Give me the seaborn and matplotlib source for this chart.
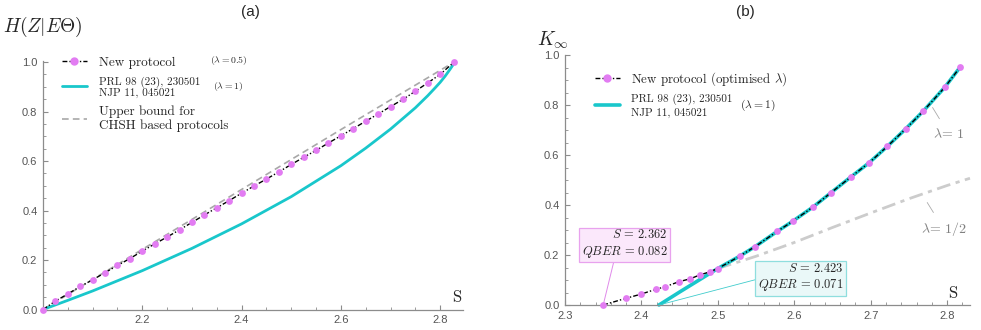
import matplotlib
matplotlib.use('Agg')
import matplotlib.pyplot as plt
import seaborn as sns
from matplotlib.lines import Line2D
from matplotlib.ticker import MultipleLocator

# ---- panel (a): values ----
s_new_a = [2.000, 2.025, 2.050, 2.075, 2.100, 2.125, 2.150, 2.175, 2.200, 2.225,
           2.250, 2.275, 2.300, 2.325, 2.350, 2.375, 2.400, 2.425, 2.450, 2.475,
           2.500, 2.525, 2.550, 2.575, 2.600, 2.625, 2.650, 2.675, 2.700, 2.725,
           2.750, 2.775, 2.800, 2.828]
h_new_a = [0.000, 0.034, 0.063, 0.093, 0.120, 0.149, 0.178, 0.206, 0.236, 0.265,
           0.293, 0.322, 0.352, 0.382, 0.411, 0.440, 0.470, 0.499, 0.527, 0.556,
           0.586, 0.615, 0.643, 0.673, 0.702, 0.731, 0.761, 0.790, 0.820, 0.849,
           0.882, 0.916, 0.950, 1.000]

s_prl_a = [2.000, 2.050, 2.100, 2.200, 2.300, 2.400, 2.500, 2.600, 2.650, 2.700,
           2.750, 2.775, 2.790, 2.800, 2.810, 2.820, 2.825, 2.828]
h_prl_a = [0.000, 0.037, 0.075, 0.157, 0.247, 0.346, 0.456, 0.581, 0.652, 0.729,
           0.815, 0.864, 0.896, 0.918, 0.943, 0.971, 0.986, 1.000]

s_bound_a = [2.000, 2.200, 2.400, 2.600, 2.828]
h_bound_a = [0.000, 0.243, 0.485, 0.727, 1.000]

# ---- panel (b) ----
s_new_b = [2.350, 2.380, 2.399, 2.419, 2.431, 2.449, 2.464, 2.477, 2.490, 2.500,
           2.529, 2.549, 2.578, 2.598, 2.625, 2.648, 2.674, 2.698, 2.722, 2.746,
           2.769, 2.797, 2.817]
k_new_b = [0.000, 0.027, 0.043, 0.063, 0.073, 0.093, 0.105, 0.121, 0.133, 0.146,
           0.196, 0.234, 0.295, 0.335, 0.393, 0.449, 0.512, 0.569, 0.635, 0.705,
           0.776, 0.871, 0.951]

s_prl_b = [2.423, 2.450, 2.475, 2.500, 2.529, 2.549, 2.578, 2.598, 2.625, 2.648,
           2.674, 2.698, 2.722, 2.746, 2.769, 2.797, 2.817]
k_prl_b = [0.000, 0.052, 0.099, 0.146, 0.196, 0.234, 0.295, 0.335, 0.393, 0.449,
           0.512, 0.569, 0.635, 0.705, 0.776, 0.871, 0.951]

s_half_b = [2.500, 2.550, 2.600, 2.650, 2.700, 2.750, 2.800, 2.830]
k_half_b = [0.146, 0.195, 0.250, 0.310, 0.368, 0.425, 0.478, 0.507]

MAG = '#E27CF2'
CYAN = '#19C7CB'
DASHDOT = (0, (3.5, 1.5, 1, 1.5))

sns.set_style('ticks')
plt.rcParams['font.family'] = ['Liberation Sans', 'DejaVu Sans']
plt.rcParams['mathtext.fontset'] = 'cm'

fig = plt.figure(figsize=(9.81, 3.30), dpi=100)
ax1 = fig.add_axes([43/981, 20.5/330, 420/981, 248.7/330])
ax2 = fig.add_axes([565/981, 25/330, 405/981, 250/330])


def style(ax):
    sns.despine(ax=ax)
    for sp in ['left', 'bottom']:
        ax.spines[sp].set_color('#8c8c8c')
        ax.spines[sp].set_linewidth(0.9)
    ax.tick_params(which='both', direction='in', colors='#8c8c8c',
                   labelcolor='#555555', labelsize=8)
    ax.tick_params(which='major', length=3.5, width=0.8, pad=4)
    ax.tick_params(which='minor', length=2, width=0.6)
    ax.yaxis.set_major_locator(MultipleLocator(0.2))
    ax.yaxis.set_minor_locator(MultipleLocator(0.05))
    ax.yaxis.set_major_formatter('{x:.1f}')
    ax.set_xlabel('')
    ax.set_ylabel('')


# ---------------- (a) ----------------
sns.lineplot(x=s_bound_a, y=h_bound_a, ax=ax1, color='#a8a8a8', lw=1.2,
             linestyle=(0, (4, 2.5)), estimator=None)
sns.lineplot(x=s_prl_a, y=h_prl_a, ax=ax1, color=CYAN, lw=2, estimator=None)
sns.lineplot(x=s_new_a, y=h_new_a, ax=ax1, color='black', lw=1, linestyle=DASHDOT,
             estimator=None)
sns.scatterplot(x=s_new_a, y=h_new_a, ax=ax1, color=MAG, s=24, linewidth=0,
                zorder=5, clip_on=False)
for ln in ax1.lines:
    ln.set_clip_on(False)

ax1.set_xlim(2.0, 2.846)
ax1.set_ylim(0, 1.005)
style(ax1)
ax1.set_xticks([2.2, 2.4, 2.6, 2.8])
ax1.xaxis.set_minor_locator(MultipleLocator(0.05))
ax1.text(2.835, 0.018, r'$\mathrm{S}$', fontsize=12, ha='center', va='bottom')

hand_a = [Line2D([], [], color='black', lw=1, linestyle=DASHDOT, marker='o', ms=5,
                 mfc=MAG, mec=MAG),
          Line2D([], [], color=CYAN, lw=2),
          Line2D([], [], color='#a8a8a8', lw=1.2, linestyle=(0, (4, 2.5)))]
lab_a = ['New protocol', 'PRL 98 (23), 230501\nNJP 11, 045021',
         'Upper bound for\nCHSH based protocols']
leg_a = ax1.legend(hand_a, lab_a, loc='upper left', bbox_to_anchor=(0.0445, 1.018),
                   frameon=False, prop={'family': 'cmr10', 'size': 9.5},
                   handlelength=1.9, handletextpad=0.9, labelspacing=0.6,
                   borderpad=0, borderaxespad=0, numpoints=1)
leg_a.get_texts()[1].set_fontsize(8)
leg_a.get_texts()[1].set_linespacing(1.0)
leg_a.get_texts()[2].set_linespacing(1.12)
ax1.text(0.398, 1.003, r'$(\lambda = 0.5)$', transform=ax1.transAxes, fontsize=7,
         va='center', ha='left')
ax1.text(0.405, 0.895, r'$(\lambda = 1)$', transform=ax1.transAxes, fontsize=7,
         va='center', ha='left')

# ---------------- (b) ----------------
sns.lineplot(x=s_half_b, y=k_half_b, ax=ax2, color='#cccccc', lw=2,
             linestyle=(0, (5, 2, 1.5, 2)), estimator=None)
sns.lineplot(x=s_prl_b, y=k_prl_b, ax=ax2, color=CYAN, lw=2.6, estimator=None)
sns.lineplot(x=s_new_b, y=k_new_b, ax=ax2, color='black', lw=1, linestyle=DASHDOT,
             estimator=None)
sns.scatterplot(x=s_new_b, y=k_new_b, ax=ax2, color=MAG, s=24, linewidth=0,
                zorder=5, clip_on=False)
for ln in ax2.lines:
    ln.set_clip_on(False)

ax2.set_xlim(2.3, 2.83)
ax2.set_ylim(0, 1.0)
style(ax2)
ax2.xaxis.set_major_locator(MultipleLocator(0.1))
ax2.xaxis.set_minor_locator(MultipleLocator(0.02))
ax2.xaxis.set_major_formatter('{x:.1f}')
ax2.text(2.808, 0.017, r'$\mathrm{S}$', fontsize=12, ha='center', va='bottom')

hand_b = [Line2D([], [], color='black', lw=1, linestyle=DASHDOT, marker='o', ms=5,
                 mfc=MAG, mec=MAG),
          Line2D([], [], color=CYAN, lw=2.6)]
lab_b = [r'New protocol (optimised $\lambda$)', 'PRL 98 (23), 230501\nNJP 11, 045021']
leg_b = ax2.legend(hand_b, lab_b, loc='upper left', bbox_to_anchor=(0.074, 0.938),
                   frameon=False, prop={'family': 'cmr10', 'size': 9.3},
                   handlelength=1.9, handletextpad=0.9, labelspacing=0.4,
                   borderpad=0, borderaxespad=0, numpoints=1)
leg_b.get_texts()[1].set_fontsize(8)
leg_b.get_texts()[1].set_linespacing(1.4)
ax2.text(0.432, 0.80, r'$(\lambda = 1)$', transform=ax2.transAxes, fontsize=8.4,
         va='center', ha='left')

# annotation boxes
ax2.annotate(r'$S\,=\,2.362$' + '\n' + r'$QBER\,=\,0.082$', xy=(2.350, 0.0),
             xytext=(2.434, 0.244), ha='right', va='center', fontsize=9,
             multialignment='right',
             bbox=dict(boxstyle='square,pad=0.2', fc='#FBE8FB', ec='#E8A2EE', lw=0.9),
             arrowprops=dict(arrowstyle='-', color='#E08AEA', lw=0.7,
                             relpos=(0.38, 0.0), shrinkA=0, shrinkB=0))
ax2.annotate(r'$S\,=\,2.423$' + '\n' + r'$QBER\,=\,0.071$', xy=(2.423, 0.0),
             xytext=(2.664, 0.11), ha='right', va='center', fontsize=9,
             multialignment='right',
             bbox=dict(boxstyle='square,pad=0.2', fc='#EAF8F8', ec='#8FDEDE', lw=0.9),
             arrowprops=dict(arrowstyle='-', color='#40CCCC', lw=0.6,
                             relpos=(0.0, 0.45), shrinkA=0, shrinkB=0))

# curve labels
ax2.annotate(r'$\lambda\!=\,1$', xy=(2.781, 0.79), xytext=(2.802, 0.685),
             ha='center', va='center', fontsize=10, color='#808080',
             arrowprops=dict(arrowstyle='-', color='#aaaaaa', lw=0.6,
                             shrinkA=4, shrinkB=0))
ax2.annotate(r'$\lambda\!=\,1/2$', xy=(2.774, 0.41), xytext=(2.796, 0.302),
             ha='center', va='center', fontsize=10, color='#808080',
             arrowprops=dict(arrowstyle='-', color='#aaaaaa', lw=0.6,
                             shrinkA=4, shrinkB=0))

# titles and axis names
fig.text(250/981, 1 - 12/330, '(a)', ha='center', va='center', fontsize=11)
fig.text(745/981, 1 - 12/330, '(b)', ha='center', va='center', fontsize=11)
fig.text(3/981, 1 - 27/330, r'$H(Z|E\Theta)$', ha='left', va='center', fontsize=14)
fig.text(537/981, 1 - 40/330, r'$K_\infty$', ha='left', va='center', fontsize=14)

fig.savefig('out.png', dpi=100)
